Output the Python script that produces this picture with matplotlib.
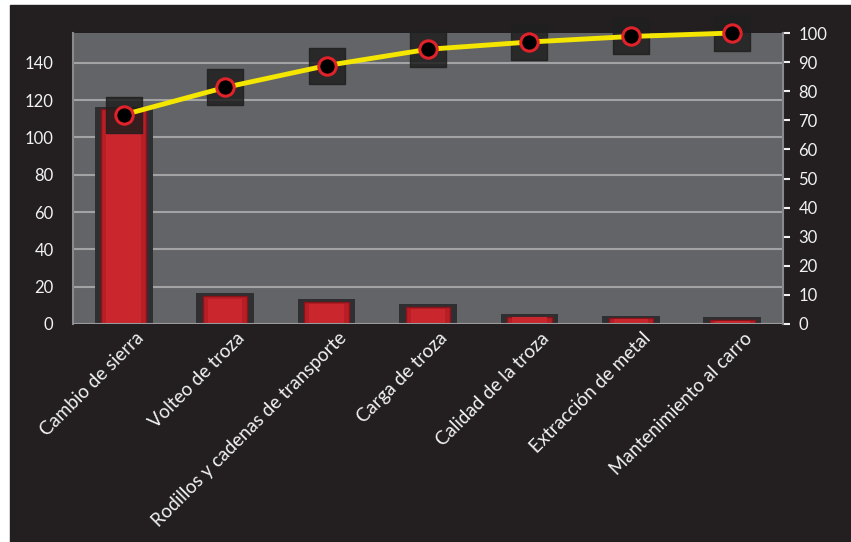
import matplotlib
matplotlib.use('Agg')
import matplotlib.pyplot as plt
from matplotlib.patches import Rectangle
from matplotlib.transforms import ScaledTranslation

# Datos del diagrama de Pareto
categorias = [
    'Cambio de sierra',
    'Volteo de troza',
    'Rodillos y cadenas de transporte',
    'Carga de troza',
    'Calidad de la troza',
    'Extracción de metal',
    'Mantenimiento al carro',
]
frecuencias = [115, 15, 12, 9, 4, 3, 2]
porcentaje_acumulado = [71.9, 81.3, 88.8, 94.4, 96.9, 98.8, 100]
ticks_izq = [0, 20, 40, 60, 80, 100, 120, 140]
ticks_der = [0, 10, 20, 30, 40, 50, 60, 70, 80, 90, 100]

plt.rcParams['font.family'] = ['Lato', 'DejaVu Sans']

fondo = '#231f20'
texto = '#f2f2f2'

fig = plt.figure(figsize=(8.51, 5.42), dpi=100, facecolor='white')
fig.patches.append(Rectangle((10 / 851, 0), 1, 1 - 5 / 542,
                             transform=fig.transFigure, color=fondo, zorder=-10))

ax = fig.add_axes([73 / 851, 1 - 324 / 542, 710 / 851, 291 / 542])
ax.set_facecolor('#636467')
x = range(len(categorias))

# sombras de las barras
ax.bar(x, [v + 3 for v in frecuencias], width=0.57, bottom=-1.5,
       color='#2f2f31', zorder=2)
ax.bar(x, frecuencias, width=0.44, color='#b71e25', edgecolor='#8a141a',
       linewidth=1, zorder=3)
ax.bar(x, [v * 0.9 for v in frecuencias], width=0.34, color='#c9262e',
       linewidth=0, zorder=4)
ax.axhline(0, color='#9a9a9c', lw=1.5, zorder=5)

ax.set_xlim(-0.5, len(categorias) - 0.5)
ax.set_ylim(0, 156)
ax.set_yticks(ticks_izq)
ax.yaxis.grid(True, color='#a3a3a5', lw=1.5, zorder=1)
ax.set_axisbelow(True)
ax.tick_params(axis='y', colors=texto, labelsize=12, length=0, pad=14)
ax.set_xticks(list(x))
ax.set_xticklabels(categorias, rotation=45, ha='right', rotation_mode='anchor',
                   color=texto, fontsize=13.5)
ax.tick_params(axis='x', length=0, pad=4)
desplazamiento = ScaledTranslation(11 / 100, 0, fig.dpi_scale_trans)
for lbl in ax.get_xticklabels():
    lbl.set_transform(lbl.get_transform() + desplazamiento)
for s in ['top', 'bottom', 'right']:
    ax.spines[s].set_visible(False)
ax.spines['left'].set_color('#8a8a8c')
ax.spines['left'].set_linewidth(1.5)

ax2 = ax.twinx()
ax2.set_ylim(0, 100)
ax2.set_yticks(ticks_der)
ax2.patch.set_visible(False)
for s in ['top', 'bottom', 'left']:
    ax2.spines[s].set_visible(False)
ax2.spines['right'].set_color('#8a8a8c')
ax2.spines['right'].set_linewidth(1.5)
ax2.tick_params(axis='y', colors=texto, labelsize=12, length=5, width=1.5,
                pad=6)
for t in ax2.yaxis.get_ticklines():
    t.set_color('#8a8a8c')

ax2.scatter(x, porcentaje_acumulado, marker='s', s=670, color='#1f1f1f',
            alpha=0.85, zorder=3, clip_on=False)
ax2.plot(x, porcentaje_acumulado, color='#f5e600', lw=3.5, zorder=4,
         solid_capstyle='round', clip_on=False)
ax2.plot(x, porcentaje_acumulado, 'o', ms=12.5, mfc='black', mec='#e0222a',
         mew=2.2, zorder=5, clip_on=False)

plt.savefig('out.png', dpi=100, facecolor=fig.get_facecolor())
